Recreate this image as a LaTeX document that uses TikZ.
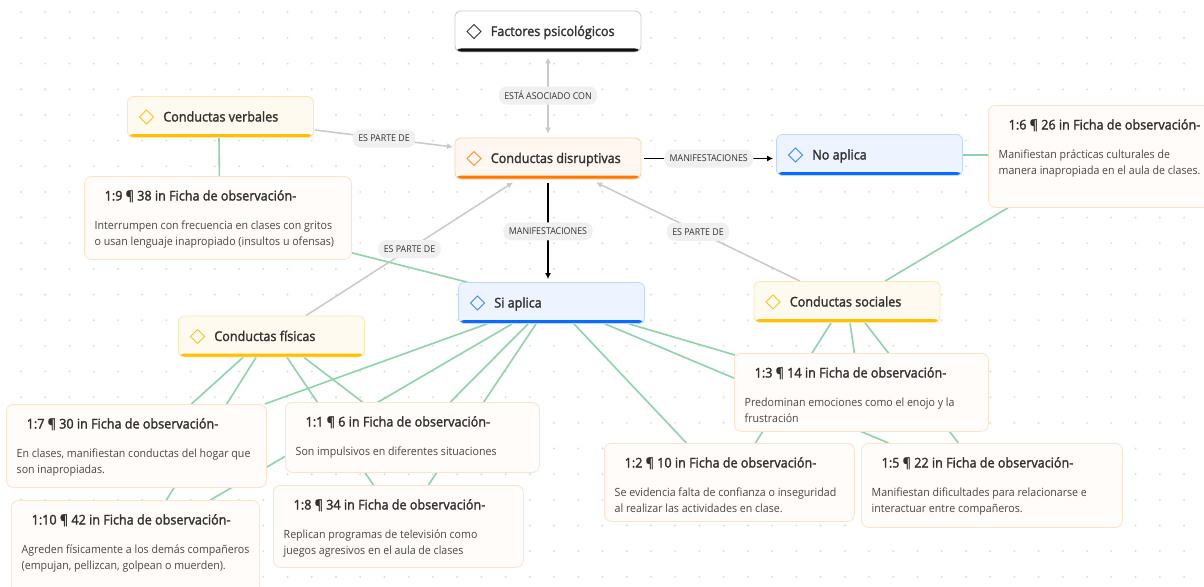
\documentclass[tikz,border=0pt]{standalone}
\usepackage{fontspec}
\setmainfont{Open Sans}[FakeStretch=0.94]
\newfontfamily\headfont{Open Sans}[FakeStretch=0.94,FakeBold=1.8]
\usetikzlibrary{arrows.meta,positioning}
\pgfdeclarelayer{dots}
\pgfdeclarelayer{links}
\pgfsetlayers{dots,links,main}

\definecolor{ink}{HTML}{323130}
\definecolor{body}{HTML}{484644}
\definecolor{orline}{HTML}{FCD5B0}
\definecolor{orfill}{HTML}{FFF7F0}
\definecolor{orbar}{HTML}{FF7A00}
\definecolor{oricon}{HTML}{FF8A30}
\definecolor{yeline}{HTML}{FDE7B0}
\definecolor{yefill}{HTML}{FFFAEF}
\definecolor{yebar}{HTML}{FFC000}
\definecolor{yeicon}{HTML}{FFC21A}
\definecolor{blline}{HTML}{BFD7FF}
\definecolor{blfill}{HTML}{EEF4FF}
\definecolor{blbar}{HTML}{0A6CFF}
\definecolor{blicon}{HTML}{3C87F7}
\definecolor{bkline}{HTML}{CCCCCC}
\definecolor{bkfill}{HTML}{FFFFFF}
\definecolor{bkbar}{HTML}{111111}
\definecolor{bkicon}{HTML}{333333}
\definecolor{noteline}{HTML}{FDE3C9}
\definecolor{notefill}{HTML}{FFFCFA}
\definecolor{lnk}{HTML}{8ED3A9}
\definecolor{prt}{HTML}{C9C9C9}
\definecolor{pill}{HTML}{F0F0F0}
\definecolor{dotc}{HTML}{DDDDDD}

\begin{document}
\begin{tikzpicture}[x=1pt, y=-1pt,
  concept/.style={rectangle, rounded corners=6pt, draw=#1line, fill=#1fill, line width=0.8pt,
    minimum width=186pt, minimum height=41pt, inner sep=0pt,
    path picture={
      \fill[#1bar] ([yshift=3.5pt]path picture bounding box.south west) rectangle (path picture bounding box.south east);
      \draw[#1icon, line width=1pt, sharp corners, line join=miter] ([xshift=12pt]path picture bounding box.west)
        -- ++(7pt,7pt) -- ++(7pt,-7pt) -- ++(-7pt,-7pt) -- cycle;
    }},
  ctitle/.style={anchor=base west, xshift=36pt, yshift=-4.5pt, inner sep=0pt, text=ink,
    font=\headfont\fontsize{13.4}{15}\selectfont},
  note/.style={rectangle, rounded corners=7pt, draw=noteline, fill=notefill, line width=0.8pt,
    anchor=north west, inner sep=0pt},
  ntitle/.style={anchor=base west, inner sep=0pt, text=ink, font=\headfont\fontsize{13.4}{15}\selectfont},
  nbody/.style={anchor=base west, align=left, inner sep=0pt, text=body, font=\fontsize{11.3}{16}\selectfont},
  link/.style={draw=lnk, line width=1.6pt},
  part/.style={draw=prt, line width=1.5pt, -{Latex[length=6pt,width=6pt]}},
  manif/.style={draw=black, line width=1.5pt, -{Latex[length=6pt,width=6pt]}},
  lbl/.style={fill=pill, rounded corners=8pt, minimum height=18pt, inner xsep=5.5pt, inner ysep=0pt,
    text=ink, font=\fontsize{9.4}{11}\selectfont}
]
  \useasboundingbox (0,0) rectangle (1204,586);

  % dotted canvas
  \begin{pgfonlayer}{dots}
    \fill[white] (0,0) rectangle (1204,586);
    \foreach \i in {0,...,48}
      \foreach \j in {0,...,22}
        \fill[dotc] (21+24.23*\i, 12.3+25.66*\j) circle (1.1pt);
  \end{pgfonlayer}

  % concepts
  \node[concept=bk, label={[ctitle]west:Factores psicológicos}] (fact) at (548,31.5) {};
  \node[concept=or, label={[ctitle]west:Conductas disruptivas}] (cdis) at (548,158.5) {};
  \node[concept=bl, label={[ctitle]west:No aplica}] (noap) at (869.5,155) {};
  \node[concept=ye, label={[ctitle]west:Conductas verbales}] (cverb) at (220.5,117) {};
  \node[concept=bl, label={[ctitle]west:Si aplica}] (sia) at (551.5,303) {};
  \node[concept=ye, label={[ctitle]west:Conductas sociales}] (csoc) at (847,302) {};
  \node[concept=ye, label={[ctitle]west:Conductas físicas}] (cfis) at (271.5,336.5) {};

  % quotations (body baseline = last line)
  \node[note, minimum width=267pt, minimum height=83pt] (n19) at (84,176) {};
  \node[ntitle] (n19t) at ([xshift=20.5pt,yshift=-24.5pt]n19.north west) {1:9 ¶ 38 in Ficha de observación-};
  \node[nbody] (n19b) at ([xshift=10.5pt,yshift=-69pt]n19.north west) {Interrumpen con frecuencia en clases con gritos\\o usan lenguaje inapropiado (insultos u ofensas)};

  \node[note, minimum width=226pt, minimum height=102pt] (n16) at (988,105) {};
  \node[ntitle] (n16t) at ([xshift=20.5pt,yshift=-24.5pt]n16.north west) {1:6 ¶ 26 in Ficha de observación-};
  \node[nbody] (n16b) at ([xshift=10.5pt,yshift=-69pt]n16.north west) {Manifiestan prácticas culturales de\\manera inapropiada en el aula de clases.};

  \node[note, minimum width=260pt, minimum height=83pt] (n17) at (6,404) {};
  \node[ntitle] (n17t) at ([xshift=20.5pt,yshift=-24.5pt]n17.north west) {1:7 ¶ 30 in Ficha de observación-};
  \node[nbody] (n17b) at ([xshift=10.5pt,yshift=-69pt]n17.north west) {En clases, manifiestan conductas del hogar que\\son inapropiadas.};

  \node[note, minimum width=254pt, minimum height=70pt] (n11) at (285,402) {};
  \node[ntitle] (n11t) at ([xshift=20.5pt,yshift=-24.5pt]n11.north west) {1:1 ¶ 6 in Ficha de observación-};
  \node[nbody] (n11b) at ([xshift=10.5pt,yshift=-53pt]n11.north west) {Son impulsivos en diferentes situaciones};

  \node[note, minimum width=248pt, minimum height=100pt] (n110) at (11,500) {};
  \node[ntitle] (n110t) at ([xshift=20.5pt,yshift=-24.5pt]n110.north west) {1:10 ¶ 42 in Ficha de observación-};
  \node[nbody] (n110b) at ([xshift=10.5pt,yshift=-69pt]n110.north west) {Agreden físicamente a los demás compañeros\\(empujan, pellizcan, golpean o muerden).};

  \node[note, minimum width=250pt, minimum height=82pt] (n18) at (273,485) {};
  \node[ntitle] (n18t) at ([xshift=20.5pt,yshift=-24.5pt]n18.north west) {1:8 ¶ 34 in Ficha de observación-};
  \node[nbody] (n18b) at ([xshift=10.5pt,yshift=-69pt]n18.north west) {Replican programas de televisión como\\juegos agresivos en el aula de clases};

  \node[note, minimum width=254pt, minimum height=78pt] (n13) at (734,353) {};
  \node[ntitle] (n13t) at ([xshift=20.5pt,yshift=-24.5pt]n13.north west) {1:3 ¶ 14 in Ficha de observación-};
  \node[nbody] (n13b) at ([xshift=10.5pt,yshift=-69pt]n13.north west) {Predominan emociones como el enojo y la\\frustración};

  \node[note, minimum width=250pt, minimum height=78pt] (n12) at (604,443) {};
  \node[ntitle] (n12t) at ([xshift=20.5pt,yshift=-24.5pt]n12.north west) {1:2 ¶ 10 in Ficha de observación-};
  \node[nbody] (n12b) at ([xshift=10.5pt,yshift=-69pt]n12.north west) {Se evidencia falta de confianza o inseguridad\\al realizar las actividades en clase.};

  \node[note, minimum width=261pt, minimum height=84pt] (n15) at (861,443) {};
  \node[ntitle] (n15t) at ([xshift=20.5pt,yshift=-24.5pt]n15.north west) {1:5 ¶ 22 in Ficha de observación-};
  \node[nbody] (n15b) at ([xshift=10.5pt,yshift=-69pt]n15.north west) {Manifiestan dificultades para relacionarse e\\interactuar entre compañeros.};

  \begin{pgfonlayer}{links}
    % quotation links
    \draw[link] ([xshift=-1.5pt]cverb.south) -- ([xshift=1.5pt]n19.north);
    \draw[link] ([yshift=7pt]n19.south east) -- ([xshift=9pt]sia.north west);
    \draw[link] (noap.east) -- (noap.east -| n16.west);
    \draw[link] ([xshift=20pt]n16.south west) -- ([xshift=38pt]csoc.north);
    \draw[link] ([xshift=-28.5pt]cfis.south) -- ([xshift=55pt]n17.north);
    \draw[link] ([xshift=-15.5pt]cfis.south) -- ([xshift=31pt]n110.north);
    \draw[link] ([xshift=32.5pt]cfis.south) -- ([xshift=-50pt]n11.north);
    \draw[link] ([xshift=15.5pt]cfis.south) -- ([xshift=-25pt]n18.north);
    \draw[link] ([xshift=-64.5pt]sia.south) -- ([xshift=-2pt]n17.north east);
    \draw[link] ([xshift=-39.5pt]sia.south) -- ([xshift=75pt]n110.north);
    \draw[link] ([xshift=-23.5pt]sia.south) -- ([xshift=38pt]n11.north);
    \draw[link] ([xshift=-15.5pt]sia.south) -- ([xshift=30pt]n18.north);
    \draw[link] ([xshift=22.5pt]sia.south) -- ([xshift=-43pt]n12.north);
    \draw[link] ([xshift=53.5pt]sia.south) -- ([xshift=-103.5pt]n15.north);
    \draw[link] ([xshift=77.5pt]sia.south) -- ([xshift=1pt,yshift=-2pt]n13.north west);
    \draw[link] ([xshift=-16pt]csoc.south) -- ([xshift=26pt]n12.north);
    \draw[link] ([xshift=3pt]csoc.south) -- ([xshift=-7pt]n13.north);
    \draw[link] ([xshift=18pt]csoc.south) -- ([xshift=-33.5pt]n15.north);

    % relations
    \draw[part, {Latex[length=6pt,width=6pt]}-{Latex[length=6pt,width=6pt]}]
      ([yshift=4pt]cdis.north) -- node[lbl] (lasoc) {ESTÁ ASOCIADO CON} ([yshift=-5pt]fact.south);
    \draw[part] ([xshift=1pt,yshift=-13pt]cverb.east) -- node[lbl] (lverb) {ES PARTE DE} ([xshift=-1.5pt,yshift=11.5pt]cdis.west);
    \draw[part] ([xshift=34.5pt]cfis.north) -- node[lbl] (lfis) {ES PARTE DE} ([xshift=-35pt,yshift=-3pt]cdis.south);
    \draw[part] ([xshift=-47pt]csoc.north) -- node[lbl] (lsoc) {ES PARTE DE} ([xshift=48pt,yshift=-3pt]cdis.south);
    \draw[manif] ([yshift=-4pt]cdis.south) -- node[lbl] (lsi) {MANIFESTACIONES} ([yshift=3pt]cdis.south |- sia.north);
    \draw[manif] ([xshift=3pt]cdis.east) -- node[lbl] (lno) {MANIFESTACIONES} ([xshift=-3pt]cdis.east -| noap.west);
  \end{pgfonlayer}
\end{tikzpicture}
\end{document}
